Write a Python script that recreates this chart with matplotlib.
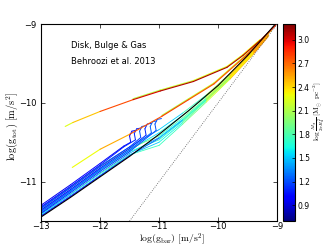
import numpy as np
import matplotlib
matplotlib.use("Agg")
import matplotlib.pyplot as plt
from matplotlib.collections import LineCollection
from matplotlib.colors import Normalize

plt.rcParams['mathtext.fontset'] = 'cm'
plt.rcParams['font.family'] = ['DejaVu Sans']

# ---------------- data ----------------
# RAR reference curve (black)
rar_x = [-13.0, -12.5, -12.0, -11.5, -11.0, -10.5, -10.0, -9.5, -9.0]
rar_y = [-11.45, -11.20, -10.94, -10.68, -10.40, -10.10, -9.78, -9.40, -8.975]
# one-to-one line (dotted)
one_x = [-11.5, -9.0]
one_y = [-11.5, -9.0]

# upper two galaxy tracks
topA_x = [-12.59, -12.46, -12.0, -11.44, -10.98, -10.42, -9.85, -9.58, -9.29, -9.02]
topA_y = [-10.30, -10.25, -10.11, -9.96, -9.85, -9.73, -9.55, -9.40, -9.21, -9.01]
topA_c = [2.20, 2.30, 2.60, 2.95, 3.05, 3.10, 3.10, 3.10, 3.10, 3.10]

topA2_x = [-11.44, -10.98, -10.42, -9.85, -9.58, -9.29]
topA2_y = [-9.95, -9.84, -9.72, -9.54, -9.39, -9.20]
topA2_c = [2.10, 2.15, 2.20, 2.25, 2.30, 2.35]

topB_x = [-12.47, -12.0, -11.5, -10.95, -10.5, -10.07, -9.51, -9.03]
topB_y = [-10.82, -10.59, -10.40, -10.17, -9.96, -9.76, -9.39, -9.02]
topB_c = [2.20, 2.40, 2.65, 2.85, 2.80, 2.75, 2.80, 2.90]

topB2_x = [-10.95, -10.5, -10.07, -9.51, -9.10]
topB2_y = [-10.16, -9.95, -9.75, -9.38, -9.08]
topB2_c = [2.10, 2.15, 2.20, 2.25, 2.30]

# low surface density tracks ending with a hook (blue)
hook_x = [
    [-13.0, -12.5, -12.0, -11.6, -11.48, -11.50, -11.46, -11.40],
    [-13.0, -12.5, -12.0, -11.6, -11.40, -11.42, -11.38, -11.31],
    [-13.0, -12.5, -12.0, -11.5, -11.31, -11.33, -11.29, -11.22],
    [-13.0, -12.5, -12.0, -11.5, -11.22, -11.24, -11.20, -11.13],
    [-13.0, -12.5, -12.0, -11.5, -11.13, -11.15, -11.11, -11.04],
    [-13.0, -12.5, -12.0, -11.5, -11.05, -11.07, -11.03, -10.96],
]
hook_y = [
    [-11.30, -11.04, -10.77, -10.55, -10.50, -10.42, -10.36, -10.35],
    [-11.32, -11.06, -10.79, -10.56, -10.47, -10.39, -10.33, -10.32],
    [-11.34, -11.08, -10.81, -10.56, -10.44, -10.36, -10.30, -10.29],
    [-11.36, -11.10, -10.83, -10.58, -10.41, -10.33, -10.27, -10.26],
    [-11.38, -11.12, -10.85, -10.60, -10.38, -10.30, -10.24, -10.23],
    [-11.40, -11.14, -10.87, -10.62, -10.35, -10.27, -10.21, -10.20],
]
hook_c = [
    [0.95, 0.95, 1.00, 1.00, 1.00, 1.00, 1.00, 1.00],
    [1.05, 1.05, 1.05, 1.10, 1.10, 1.10, 1.10, 1.10],
    [1.15, 1.15, 1.15, 1.15, 1.20, 1.20, 1.20, 1.20],
    [1.00, 1.05, 1.05, 1.10, 1.10, 1.10, 1.10, 1.10],
    [1.20, 1.20, 1.25, 1.25, 1.25, 1.25, 1.25, 1.25],
    [1.10, 1.10, 1.15, 1.20, 1.20, 1.20, 1.20, 1.20],
]

# higher surface density tracks hugging the RAR (blue/cyan -> orange)
band_x = [-13.0, -12.5, -12.0, -11.5, -11.0, -10.6, -10.2, -9.8, -9.4, -9.15]
band_y = [
    [-11.33, -11.07, -10.80, -10.56, -10.34, -10.13, -9.90, -9.63, -9.31, -9.11],
    [-11.37, -11.11, -10.84, -10.60, -10.38, -10.16, -9.92, -9.65, -9.33, -9.12],
    [-11.35, -11.08, -10.81, -10.58, -10.42, -10.19, -9.94, -9.66, -9.34, -9.13],
    [-11.41, -11.16, -10.89, -10.64, -10.44, -10.21, -9.95, -9.67, -9.35, -9.14],
    [-11.39, -11.13, -10.86, -10.62, -10.47, -10.23, -9.96, -9.68, -9.36, -9.15],
    [-11.43, -11.18, -10.92, -10.66, -10.50, -10.25, -9.97, -9.69, -9.37, -9.15],
    [-11.42, -11.16, -10.90, -10.66, -10.54, -10.27, -9.99, -9.70, -9.38, -9.16],
    [-11.44, -11.19, -10.93, -10.67, -10.45, -10.22, -9.96, -9.68, -9.36, -9.15],
]
band_c = [
    [1.10, 1.15, 1.25, 1.35, 1.45, 1.60, 1.90, 2.25, 2.50, 2.65],
    [1.30, 1.35, 1.45, 1.55, 1.60, 1.70, 1.95, 2.30, 2.55, 2.70],
    [1.75, 1.85, 2.00, 2.05, 1.75, 1.75, 2.00, 2.35, 2.55, 2.65],
    [1.05, 1.10, 1.20, 1.35, 1.50, 1.65, 1.90, 2.25, 2.50, 2.60],
    [1.55, 1.60, 1.70, 1.75, 1.65, 1.75, 2.00, 2.30, 2.50, 2.60],
    [1.20, 1.25, 1.35, 1.45, 1.55, 1.70, 1.95, 2.25, 2.45, 2.55],
    [1.60, 1.65, 1.75, 1.80, 1.70, 1.80, 2.05, 2.35, 2.55, 2.65],
    [0.95, 1.00, 1.05, 1.15, 1.30, 1.55, 1.85, 2.20, 2.45, 2.60],
]

cbar_ticks = [0.9, 1.2, 1.5, 1.8, 2.1, 2.4, 2.7, 3.0]
cmin, cmax = 0.7, 3.2

# ---------------- figure ----------------
fig = plt.figure(figsize=(3.28, 2.46), dpi=100)
ax = fig.add_axes([0.125, 0.1016, 0.72, 0.8008])
cax = fig.add_axes([0.863, 0.1016, 0.0366, 0.8008])

cmap = plt.get_cmap('jet')
norm = Normalize(vmin=cmin, vmax=cmax)


def track(x, y, c, lw=0.6, z=2):
    pts = np.column_stack([x, y]).reshape(-1, 1, 2)
    segs = np.concatenate([pts[:-1], pts[1:]], axis=1)
    cc = 0.5 * (np.asarray(c[:-1]) + np.asarray(c[1:]))
    lc = LineCollection(segs, cmap=cmap, norm=norm, linewidths=lw, zorder=z,
                        capstyle='round', joinstyle='round')
    lc.set_array(cc)
    ax.add_collection(lc)


for y, c in zip(band_y, band_c):
    track(band_x, y, c)
for x, y, c in zip(hook_x, hook_y, hook_c):
    track(x, y, c, lw=0.7)
track(topA2_x, topA2_y, topA2_c, lw=1.0, z=2)
track(topA_x, topA_y, topA_c, lw=0.8, z=3)
track(topB2_x, topB2_y, topB2_c, lw=1.0, z=2)
track(topB_x, topB_y, topB_c, lw=0.8, z=3)

ax.plot(rar_x, rar_y, color='black', lw=0.8, zorder=4)
ax.plot(one_x, one_y, color='0.35', lw=0.6, ls=':', zorder=4)

ax.set_xlim(-13, -9)
ax.set_ylim(-11.5, -9)
ax.set_xticks([-13, -12, -11, -10, -9])
ax.set_yticks([-11, -10, -9])
ax.tick_params(direction='in', top=True, right=True, labelsize=6, length=3, width=0.5)
ax.tick_params(axis='x', pad=1)
ax.tick_params(axis='y', pad=3)
for s in ax.spines.values():
    s.set_linewidth(0.8)

ax.set_xlabel(r'$\log(\mathrm{g_{bar}})\ [\mathrm{m/s^2}]$', fontsize=7)
ax.xaxis.set_label_coords(0.555, -0.052)
ax.set_ylabel(r'$\log(\mathrm{g_{tot}})\ [\mathrm{m/s^2}]$', fontsize=7.5)
ax.yaxis.set_label_coords(-0.088, 0.48)

ax.text(0.127, 0.893, 'Disk, Bulge & Gas', transform=ax.transAxes, fontsize=6, va='center')
ax.text(0.127, 0.812, 'Behroozi et al. 2013', transform=ax.transAxes, fontsize=6, va='center')

sm = matplotlib.cm.ScalarMappable(norm=norm, cmap=cmap)
cb = fig.colorbar(sm, cax=cax, ticks=cbar_ticks)
cb.ax.tick_params(labelsize=5.5, direction='in', length=2, width=0.5, pad=2)
cb.outline.set_linewidth(0.8)
cb.set_label(r'$\log\frac{M_\star}{2\pi R_\mathrm{d}^2}\ [\mathrm{M_\odot\ pc^{-2}}]$', fontsize=5.2)
cb.ax.yaxis.set_label_coords(2.3, 0.56)

fig.savefig('out.png', dpi=100)
